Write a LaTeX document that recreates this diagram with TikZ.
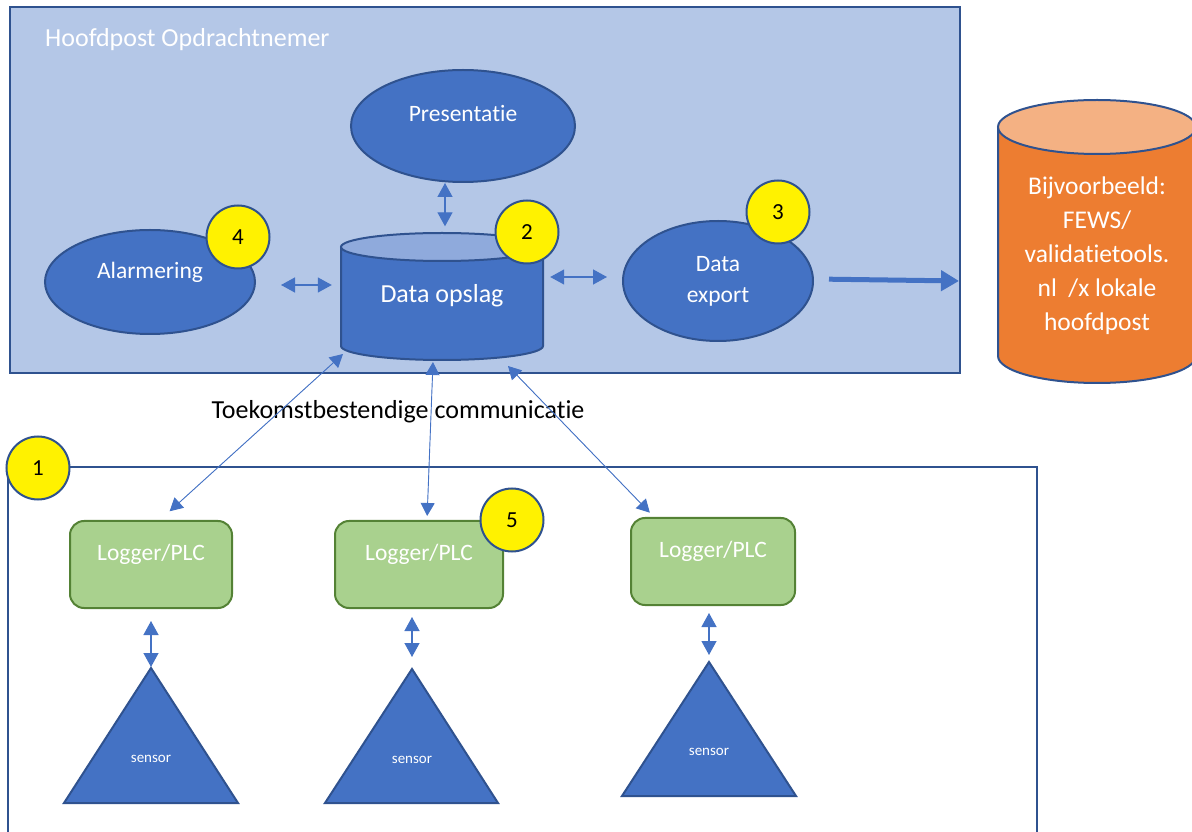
\documentclass[tikz,border=0pt]{standalone}
\usepackage{fontspec}
\setmainfont{Carlito}[Ligatures={CommonOff,ContextualOff,RequiredOff}]
\usetikzlibrary{arrows.meta, shapes.geometric, positioning, calc}

\definecolor{boxblue}{HTML}{B4C7E7}
\definecolor{shapeblue}{HTML}{4472C4}
\definecolor{edgeblue}{HTML}{2F528F}
\definecolor{topblue}{HTML}{8FAADC}
\definecolor{fewsorange}{HTML}{ED7D31}
\definecolor{fewstop}{HTML}{F4B183}
\definecolor{loggergreen}{HTML}{A9D18E}
\definecolor{loggeredge}{HTML}{548235}

\tikzset{
	bubble/.style={ellipse, fill=shapeblue, draw=edgeblue, line width=2pt, inner sep=0pt},
	num/.style={circle, fill=yellow, draw=edgeblue, line width=2pt, minimum size=63pt, inner sep=0pt, font=\fontsize{23}{27}\selectfont},
	logger/.style={rectangle, rounded corners=14pt, fill=loggergreen, draw=loggeredge, line width=2pt, minimum width=162pt, minimum height=87pt},
	wtext/.style={text=white, inner sep=0pt, font=\fontsize{23.5}{28}\selectfont},
	link/.style={{Triangle[length=14pt,width=15pt]}-{Triangle[length=14pt,width=15pt]}, draw=shapeblue, fill=shapeblue, line width=1.3pt},
	comm/.style={{Triangle[length=13pt,width=14pt]}-{Triangle[length=13pt,width=14pt]}, draw=shapeblue, fill=shapeblue, line width=0.9pt},
	bigarrow/.style={-{Triangle[length=18pt,width=20pt]}, draw=shapeblue, fill=shapeblue, line width=5pt},
	sensor/.style={fill=shapeblue, draw=edgeblue, line width=2pt, line join=miter},
}

\begin{document}
\begin{tikzpicture}[x=1pt, y=1pt]

	\clip (0,0) rectangle (1192,831);

	% hoofdpost opdrachtnemer
	\node[fill=boxblue, draw=edgeblue, line width=2pt, minimum width=950pt, minimum height=366pt, inner sep=0pt] (hoofdpost) at (485,641) {};
	\node[text=white, inner sep=0pt, anchor=west, font=\fontsize{26}{30}\selectfont] (titel) at (45,791) {Hoofdpost Opdrachtnemer};

	\node[bubble, minimum width=224pt, minimum height=112pt] (pres) at (463,705) {};
	\node[wtext] (presT) at (463,717) {Presentatie};

	\node[bubble, minimum width=210pt, minimum height=104pt] (alarm) at (150,549) {};
	\node[wtext] (alarmT) at (150,559) {Alarmering};

	\node[bubble, minimum width=190pt, minimum height=120pt] (export) at (718,550) {};
	\node[wtext, align=center, font=\fontsize{23.5}{31}\selectfont] (exportT) at (718,550) {Data\\export};

	% data opslag
	\filldraw[fill=shapeblue, draw=edgeblue, line width=2pt] (341,584) -- (341,485) arc[start angle=180, end angle=360, x radius=101pt, y radius=14pt] -- (543,584) -- cycle;
	\filldraw[fill=topblue, draw=edgeblue, line width=2pt] (442,584) ellipse[x radius=101pt, y radius=14pt];
	\node[minimum width=202pt, minimum height=127pt, inner sep=0pt] (opslag) at (442,535) {};
	\node[wtext, font=\fontsize{26}{30}\selectfont] (opslagT) at (442,535) {Data opslag};
	\coordinate (opA) at (343,477);
	\coordinate (opB) at (433,469);
	\coordinate (opC) at (508,465);

	% lokale hoofdpost
	\filldraw[fill=fewsorange, draw=edgeblue, line width=2pt] (998,704) -- (998,475) arc[start angle=180, end angle=360, x radius=99pt, y radius=27pt] -- (1196,704) -- cycle;
	\filldraw[fill=fewstop, draw=edgeblue, line width=2pt] (1097,704) ellipse[x radius=99pt, y radius=27pt];
	\node[text=white, inner sep=0pt, align=center, font=\fontsize{25.5}{34}\selectfont] (fews) at (1097,575) {Bijvoorbeeld:\\FEWS/\\validatietools.\\nl\ \ /x lokale\\hoofdpost};

	\draw[link, shorten >=6pt] ([xshift=-18pt]pres.south) -- ([xshift=3pt]opslag.north);
	\draw[link, shorten <=25pt, shorten >=9pt] ([yshift=-3pt]alarm.east) -- ([yshift=11pt]opslag.west);
	\draw[link, shorten <=7pt, shorten >=15pt] ([yshift=19pt]opslag.east) -- ([yshift=4pt]export.west);
	\draw[bigarrow, shorten <=15pt, shorten >=2pt] ([yshift=2pt]export.east) -- (export.east -| hoofdpost.east);

	\node[inner sep=0pt, font=\fontsize{26}{30}\selectfont] (commT) at (398,419) {Toekomstbestendige communicatie};

	% veld
	\draw[edgeblue, line width=2pt] (8,-20) rectangle (1037,364);

	\node[logger] (log1) at (151,266.5) {};
	\node[wtext] (log1T) at (151,277) {Logger/PLC};
	\node[logger, minimum width=168pt] (log2) at (419,266.5) {};
	\node[wtext] (log2T) at (419,277) {Logger/PLC};
	\node[logger, minimum width=164pt] (log3) at (713,269.5) {};
	\node[wtext] (log3T) at (713,280) {Logger/PLC};

	\coordinate (sens1) at (151,163);
	\filldraw[sensor] (sens1) -- (238,28) -- (64,28) -- cycle;
	\node[text=white, inner sep=0pt, font=\fontsize{15}{17}\selectfont] (sens1T) at (151,72) {sensor};
	\coordinate (sens2) at (412,162);
	\filldraw[sensor] (sens2) -- (498,28) -- (325,28) -- cycle;
	\node[text=white, inner sep=0pt, font=\fontsize{15}{17}\selectfont] (sens2T) at (412,71) {sensor};
	\coordinate (sens3) at (709,169);
	\filldraw[sensor] (sens3) -- (796,35) -- (622,35) -- cycle;
	\node[text=white, inner sep=0pt, font=\fontsize{15}{17}\selectfont] (sens3T) at (709,79) {sensor};

	\draw[link, shorten <=12pt, shorten >=1pt] (log1.south -| sens1) -- (sens1);
	\draw[link, shorten <=8pt, shorten >=12pt] (log2.south -| sens2) -- (sens2);
	\draw[link, shorten <=7pt, shorten >=7pt] (log3.south -| sens3) -- (sens3);

	\draw[comm, shorten >=13pt] (opA) -- ([xshift=9pt]log1.north);
	\draw[comm, shorten >=4pt] (opB) -- ([xshift=8pt]log2.north);
	\draw[comm, shorten >=6pt] (opC) -- ([xshift=24pt]log3.north west);

	% nummers
	\node[num] (n1) at (38,363) {1};
	\node[num] (n2) at (527,599) {2};
	\node[num] (n3) at (778,619) {3};
	\node[num] (n4) at (238,594) {4};
	\node[num] (n5) at (512,311) {5};

\end{tikzpicture}
\end{document}
